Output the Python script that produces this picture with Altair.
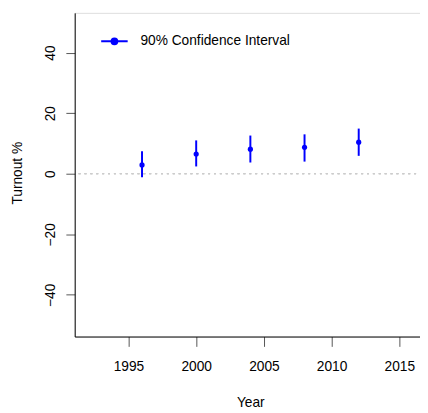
import altair as alt
import pandas as pd

years = [1996, 2000, 2004, 2008, 2012]
estimate = [2.9, 6.5, 8.1, 8.7, 10.4]
ci_low = [-1.2, 2.4, 3.7, 4.0, 5.9]
ci_high = [7.45, 11.0, 12.6, 13.0, 14.9]
label = "90% Confidence Interval"
x_ticks = [1995, 2000, 2005, 2010, 2015]
y_ticks = [-40, -20, 0, 20, 40]

df = pd.DataFrame({"year": years, "est": estimate, "lo": ci_low, "hi": ci_high,
                   "series": [label] * len(years)})

FONT = "Liberation Sans"
xscale = alt.Scale(domain=[1991.03, 2016.67], nice=False, zero=False)
yscale = alt.Scale(domain=[-53.77, 53.12], nice=False, zero=False)

xaxis = alt.Axis(values=x_ticks, format="d", title="Year", grid=False,
                 domainColor="black", tickColor="#555", tickSize=10,
                 labelFont=FONT, labelFontSize=14, labelColor="black",
                 labelBaseline="alphabetic", labelPadding=25,
                 titleFont=FONT, titleFontSize=14, titleFontWeight="normal",
                 titleColor="black", titleX=179, titleY=71,
                 titleBaseline="alphabetic", titleAlign="center")
yaxis = alt.Axis(values=y_ticks, title="Turnout %", grid=False,
                 domainColor="black", tickColor="#555", tickSize=9,
                 labelFont=FONT, labelFontSize=14, labelColor="black",
                 labelAngle=270, labelAlign="center", labelBaseline="alphabetic",
                 labelPadding=11.5,
                 titleFont=FONT, titleFontSize=14, titleFontWeight="normal",
                 titleColor="black", titleAngle=270, titleX=-54, titleY=163,
                 titleBaseline="alphabetic", titleAlign="center")

base = alt.Chart(df)

zero = base.mark_rule(color="#cccccc", strokeDash=[2, 4], strokeWidth=1).encode(
    y=alt.datum(0, scale=yscale, axis=yaxis)
)

bars = base.mark_rule(color="blue", strokeWidth=2).encode(
    x=alt.X("year:Q", scale=xscale, axis=xaxis),
    y=alt.Y("lo:Q", scale=yscale, axis=yaxis),
    y2="hi:Q",
)

sym = "M-1,0H1M-0.22,0A0.22,0.22,0,1,1,0.22,0A0.22,0.22,0,1,1,-0.22,0Z"
points = base.mark_point(filled=True, size=28, opacity=1).encode(
    x=alt.X("year:Q", scale=xscale, axis=xaxis),
    y=alt.Y("est:Q", scale=yscale, axis=yaxis),
    color=alt.Color("series:N", scale=alt.Scale(domain=[label], range=["blue"]),
                    legend=alt.Legend(title=None, orient="none", legendX=26, legendY=14.5,
                                      symbolType=sym, symbolSize=729, symbolStrokeWidth=2,
                                      symbolStrokeColor="blue", symbolFillColor="blue",
                                      symbolOpacity=1,
                                      labelFont=FONT, labelFontSize=14, labelColor="black",
                                      labelOffset=12, padding=0)),
)

chart = alt.layer(zero, bars, points).properties(
    width=354, height=330, autosize="none",
    padding={"left": 68, "top": 1, "right": -2, "bottom": 74},
).configure_view(stroke="black", strokeWidth=1).configure(background="white")

chart.save("out.html", embed_options={"renderer": "svg", "actions": False})
